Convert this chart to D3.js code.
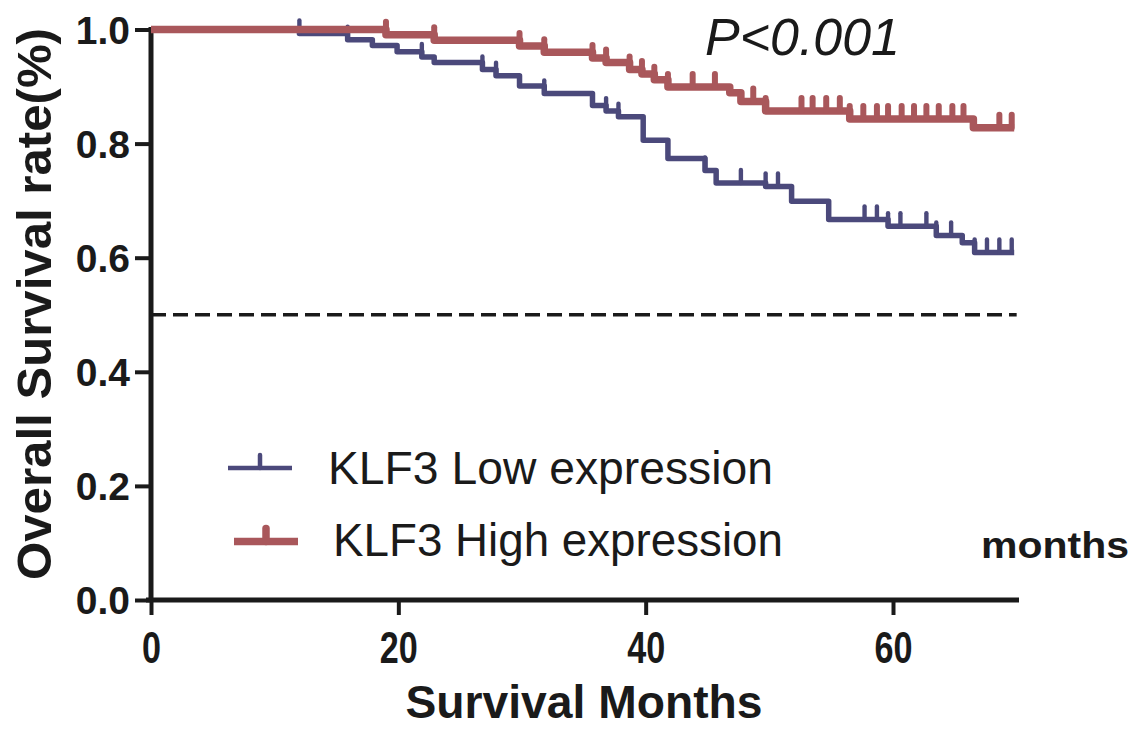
<!DOCTYPE html>
<html>
<head>
<meta charset="utf-8">
<script src="https://cdn.jsdelivr.net/npm/d3@7"></script>
<style>
  html, body { margin: 0; padding: 0; background: #fff; }
  svg { display: block; }
  text { font-family: "Liberation Sans", Arial, sans-serif; fill: #1a1a1a; }
</style>
</head>
<body>
<svg id="chart" width="1136" height="730"></svg>
<script>
// ---- Data ----
const lowTimes  = [0, 12.0, 15.9, 17.9, 19.9, 21.9, 22.9, 26.8, 27.9, 29.8, 31.8, 35.7, 36.8, 37.8, 39.8, 41.8, 44.8, 45.7, 49.7, 51.8, 54.8, 59.6, 63.5, 65.6, 66.6];
const lowSurv   = [1.0, 0.993, 0.982, 0.972, 0.961, 0.952, 0.942, 0.930, 0.919, 0.901, 0.888, 0.867, 0.857, 0.847, 0.806, 0.774, 0.753, 0.731, 0.725, 0.699, 0.667, 0.655, 0.639, 0.626, 0.609];
const lowCensor = [12.0, 15.9, 21.9, 26.8, 27.9, 31.8, 36.8, 37.8, 44.8, 47.7, 49.7, 50.7, 57.7, 58.7, 59.6, 60.6, 62.7, 63.5, 64.7, 66.6, 67.6, 68.6, 69.6];
const lowEnd = 69.8;

const highTimes  = [0, 19.0, 22.9, 29.8, 31.8, 35.7, 36.8, 38.7, 39.7, 40.7, 41.8, 46.8, 47.7, 49.7, 56.5, 66.5];
const highSurv   = [1.0, 0.991, 0.981, 0.971, 0.960, 0.950, 0.942, 0.930, 0.922, 0.912, 0.899, 0.889, 0.874, 0.857, 0.843, 0.828];
const highCensor = [19.0, 22.9, 29.8, 31.8, 35.7, 36.8, 38.7, 39.7, 40.7, 41.8, 43.8, 45.6, 48.7, 49.7, 52.6, 53.5, 54.6, 55.7, 56.5, 57.6, 58.7, 59.6, 60.7, 61.7, 62.7, 63.7, 64.8, 65.7, 68.6, 69.6];
const highEnd = 69.8;

const xTicks = [0, 20, 40, 60];
const yTicks = [0.0, 0.2, 0.4, 0.6, 0.8, 1.0];
const seriesNames = ["KLF3 Low expression", "KLF3 High expression"];
const pText = "P<0.001";
const xTitle = "Survival Months";
const yTitle = "Overall Survival rate(%)";
const extraLabel = "months";
const refLevel = 0.5;

// ---- Drawing ----
const BLUE = "#4b497b", RED = "#a9575b", INK = "#1a1a1a";
const svg = d3.select("#chart");
const x = d3.scaleLinear().domain([0, 60]).range([151, 893]);
const y = d3.scaleLinear().domain([0, 1]).range([600, 29.5]);

// reference dashed line
svg.append("line")
  .attr("x1", x(0)).attr("x2", x(70))
  .attr("y1", y(refLevel)).attr("y2", y(refLevel))
  .attr("stroke", INK).attr("stroke-width", 3.5)
  .attr("stroke-dasharray", "15,7");

// axes
const yAxis = d3.axisLeft(y).tickValues(yTicks).tickSize(16).tickSizeOuter(0).tickPadding(0)
  .tickFormat(d3.format(".1f"));
const gy = svg.append("g").attr("transform", `translate(${x(0)},0)`).call(yAxis);
gy.select(".domain").remove();
gy.selectAll(".tick line").attr("stroke", INK).attr("stroke-width", 4);
gy.selectAll(".tick text")
  .attr("x", -21).attr("dy", "0.35em")
  .style("font-size", "39px").style("font-weight", "bold").attr("fill", INK);

const xAxis = d3.axisBottom(x).tickValues(xTicks).tickSize(15).tickSizeOuter(0);
const gx = svg.append("g").attr("transform", `translate(0,${y(0)})`).call(xAxis);
gx.select(".domain").remove();
gx.selectAll(".tick line").attr("stroke", INK).attr("stroke-width", 4);
gx.selectAll(".tick text")
  .attr("y", 63).attr("dy", 0)
  .style("font-size", "44px").style("font-weight", "bold").attr("fill", INK)
  .attr("textLength", d => String(d).length * 19)
  .attr("lengthAdjust", "spacingAndGlyphs");

// axis lines
svg.append("line").attr("x1", x(0)).attr("x2", x(0)).attr("y1", 27).attr("y2", y(0) + 2)
  .attr("stroke", INK).attr("stroke-width", 5);
svg.append("line").attr("x1", x(0) - 5).attr("x2", 1019).attr("y1", y(0)).attr("y2", y(0))
  .attr("stroke", INK).attr("stroke-width", 5);

// KM curves
function stepPts(times, surv, end) {
  const pts = times.map((t, i) => [t, surv[i]]);
  pts.push([end, surv[surv.length - 1]]);
  return pts;
}
function survAt(times, surv, t) {
  let s = surv[0];
  for (let i = 0; i < times.length; i++) if (times[i] <= t + 1e-9) s = surv[i];
  return s;
}
const line = d3.line().x(d => x(d[0])).y(d => y(d[1])).curve(d3.curveStepAfter);

function drawSeries(times, surv, cens, end, color, w) {
  const g = svg.append("g");
  g.append("path").datum(stepPts(times, surv, end))
    .attr("d", line).attr("fill", "none").attr("stroke", color)
    .attr("stroke-width", w).attr("stroke-linejoin", "round");
  g.selectAll("line.c").data(cens).join("line").attr("class", "c")
    .attr("x1", d => x(d)).attr("x2", d => x(d))
    .attr("y1", d => y(survAt(times, surv, d)))
    .attr("y2", d => y(survAt(times, surv, d)) - 13)
    .attr("stroke", color).attr("stroke-width", w * 0.8).attr("stroke-linecap", "round");
}
drawSeries(lowTimes, lowSurv, lowCensor, lowEnd, BLUE, 5.5);
drawSeries(highTimes, highSurv, highCensor, highEnd, RED, 7.5);

// legend
const leg = [
  {name: seriesNames[0], color: BLUE, w: 4.5, x1: 228, x2: 292, ly: 468, tx: 328, ty: 484, tl: 445},
  {name: seriesNames[1], color: RED, w: 7.5, x1: 234, x2: 298, ly: 541.5, tx: 333, ty: 556, tl: 450}
];
leg.forEach(l => {
  svg.append("line").attr("x1", l.x1).attr("x2", l.x2).attr("y1", l.ly).attr("y2", l.ly)
    .attr("stroke", l.color).attr("stroke-width", l.w);
  const cx = (l.x1 + l.x2) / 2;
  svg.append("line").attr("x1", cx).attr("x2", cx).attr("y1", l.ly).attr("y2", l.ly - 13)
    .attr("stroke", l.color).attr("stroke-width", l.w).attr("stroke-linecap", "round");
  svg.append("text").attr("x", l.tx).attr("y", l.ty).text(l.name)
    .style("font-size", "46px").attr("fill", INK)
    .attr("textLength", l.tl).attr("lengthAdjust", "spacingAndGlyphs");
});

// annotations
svg.append("text").attr("x", 705).attr("y", 55).text(pText)
  .style("font-size", "52px").style("font-style", "italic").attr("fill", INK)
  .attr("textLength", 195).attr("lengthAdjust", "spacingAndGlyphs");
svg.append("text").attr("x", 981).attr("y", 558).text(extraLabel)
  .style("font-size", "36px").style("font-weight", "bold").attr("fill", INK)
  .attr("textLength", 148).attr("lengthAdjust", "spacingAndGlyphs");

// axis titles
svg.append("text").attr("x", 584).attr("y", 718).attr("text-anchor", "middle").text(xTitle)
  .style("font-size", "46px").style("font-weight", "bold").attr("fill", INK)
  .attr("textLength", 357).attr("lengthAdjust", "spacingAndGlyphs");
svg.append("text").attr("transform", "rotate(-90)")
  .attr("x", -304).attr("y", 51).attr("text-anchor", "middle").text(yTitle)
  .style("font-size", "49px").style("font-weight", "bold").attr("fill", INK)
  .attr("textLength", 552).attr("lengthAdjust", "spacingAndGlyphs");
</script>
</body>
</html>
